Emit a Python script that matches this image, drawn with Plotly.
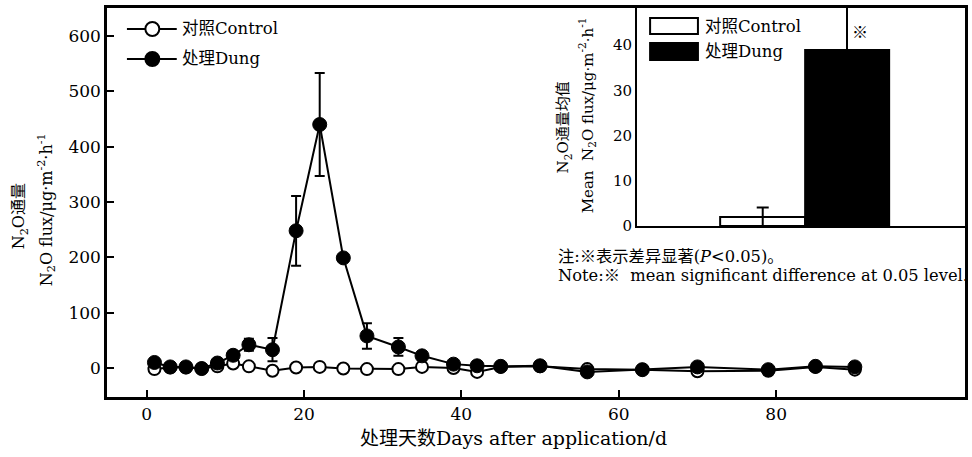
import plotly.graph_objects as go

# ---- data ----
days = [1, 3, 5, 7, 9, 11, 13, 16, 19, 22, 25, 28, 32, 35, 39, 42, 45, 50, 56, 63, 70, 79, 85, 90]
control = [-2, 1, 1, -1, 3, 8, 3, -5, 1, 2, -1, -2, -2, 2, 0, -7, 2, 3, -2, -3, -6, -5, 2, -3]
control_err = [3, 2, 2, 2, 3, 3, 3, 3, 4, 3, 3, 3, 3, 3, 3, 4, 3, 3, 4, 3, 4, 3, 3, 4]
dung = [10, 2, 2, -1, 9, 23, 42, 33, 248, 440, 199, 58, 38, 22, 7, 4, 3, 4, -7, -3, 2, -3, 3, 2]
dung_err = [4, 2, 2, 2, 3, 4, 11, 21, 63, 93, 5, 23, 16, 4, 3, 3, 2, 2, 4, 2, 2, 2, 2, 3]

mean_labels = ["对照Control", "处理Dung"]
mean_pos = [1, 2]
mean_values = [1.9, 38.9]
mean_err = [2.2, 12]

x_ticks = [0, 20, 40, 60, 80]
y_ticks = [0, 100, 200, 300, 400, 500, 600]
y2_ticks = [0, 10, 20, 30, 40]

FONT = "DejaVu Serif, Noto Sans CJK SC"

W, H = 972, 457
L, R, T, B = 107, 4, 8, 60
PW, PH = W - L - R, H - T - B


def px(x):
    return (x - L) / PW


def py(y):
    return (H - B - y) / PH


fig = go.Figure()

fig.add_trace(go.Scatter(
    x=days, y=control, mode="lines+markers", name=mean_labels[0],
    error_y=dict(type="data", array=control_err, color="black", thickness=1.5, width=4),
    line=dict(color="black", width=2),
    marker=dict(symbol="circle", size=12, color="white", line=dict(color="black", width=2)),
    showlegend=False, xaxis="x", yaxis="y"))

fig.add_trace(go.Scatter(
    x=days, y=dung, mode="lines+markers", name=mean_labels[1],
    error_y=dict(type="data", array=dung_err, color="black", thickness=2, width=5),
    line=dict(color="black", width=2),
    marker=dict(symbol="circle", size=14, color="black", line=dict(color="black", width=1)),
    showlegend=False, xaxis="x", yaxis="y"))

fig.add_trace(go.Bar(
    x=mean_pos, y=mean_values, width=1, name="mean",
    marker=dict(color=["white", "black"], line=dict(color="black", width=2)),
    error_y=dict(type="data", array=mean_err, color="black", thickness=2, width=6),
    showlegend=False, xaxis="x2", yaxis="y2"))

axis_common = dict(showline=True, linecolor="black", linewidth=2.5, showgrid=False,
                   zeroline=False, ticks="inside", ticklen=7, tickwidth=2, tickcolor="black",
                   tickfont=dict(family=FONT, size=17, color="black"))

shapes = []
annotations = []

# main legend
for i, (lab, fill) in enumerate(zip(mean_labels, ["white", "black"])):
    yy = 29 + 30 * i
    shapes.append(dict(type="line", xref="paper", yref="paper", x0=px(127), x1=px(177),
                       y0=py(yy), y1=py(yy), line=dict(color="black", width=2)))
    shapes.append(dict(type="circle", xref="paper", yref="paper", x0=px(145.5), x1=px(159.5),
                       y0=py(yy + 7), y1=py(yy - 7), fillcolor=fill,
                       line=dict(color="black", width=2)))
    annotations.append(dict(xref="paper", yref="paper", x=px(180), y=py(yy), text=lab,
                            showarrow=False, xanchor="left", yanchor="middle",
                            font=dict(family=FONT, size=16.5, color="black")))

# inset legend
for i, (lab, fill) in enumerate(zip(mean_labels, ["white", "black"])):
    y0, y1 = [(18, 34), (43, 60)][i]
    shapes.append(dict(type="rect", xref="paper", yref="paper", x0=px(652), x1=px(700),
                       y0=py(y1), y1=py(y0), fillcolor=fill, line=dict(color="black", width=2)))
    annotations.append(dict(xref="paper", yref="paper", x=px(705), y=py((y0 + y1) / 2), text=lab,
                            showarrow=False, xanchor="left", yanchor="middle",
                            font=dict(family=FONT, size=16.5, color="black")))

# axis titles and notes
annotations += [
    dict(xref="paper", yref="paper", x=px(20), y=py(216), text="N<sub>2</sub>O通量",
         textangle=-90, showarrow=False, xanchor="center", yanchor="middle",
         font=dict(family=FONT, size=16, color="black")),
    dict(xref="paper", yref="paper", x=px(46), y=py(210),
         text="N<sub>2</sub>O flux/μg·m<sup>-2</sup>·h<sup>-1</sup>",
         textangle=-90, showarrow=False, xanchor="center", yanchor="middle",
         font=dict(family=FONT, size=16, color="black")),
    dict(xref="paper", yref="paper", x=px(515), y=py(438), text="处理天数Days after application/d",
         showarrow=False, xanchor="center", yanchor="middle",
         font=dict(family=FONT, size=19, color="black")),
    dict(xref="paper", yref="paper", x=px(565), y=py(127), text="N<sub>2</sub>O通量均值",
         textangle=-90, showarrow=False, xanchor="center", yanchor="middle",
         font=dict(family=FONT, size=15, color="black")),
    dict(xref="paper", yref="paper", x=px(588), y=py(115),
         text="Mean  N<sub>2</sub>O flux/μg·m<sup>-2</sup>·h<sup>-1</sup>",
         textangle=-90, showarrow=False, xanchor="center", yanchor="middle",
         font=dict(family=FONT, size=15, color="black")),
    dict(xref="paper", yref="paper", x=px(863), y=py(33), text="※",
         showarrow=False, xanchor="center", yanchor="middle",
         font=dict(family=FONT, size=16, color="black")),
    dict(xref="paper", yref="paper", x=px(558), y=py(256), text="注:※表示差异显著(<i>P</i><0.05)。",
         showarrow=False, xanchor="left", yanchor="middle",
         font=dict(family=FONT, size=16.3, color="black")),
    dict(xref="paper", yref="paper", x=px(558), y=py(276),
         text="Note:※  mean significant difference at 0.05 level.",
         showarrow=False, xanchor="left", yanchor="middle",
         font=dict(family=FONT, size=16.3, color="black")),
]

fig.update_layout(
    width=W, height=H,
    margin=dict(l=L, r=R, t=T, b=B),
    paper_bgcolor="white", plot_bgcolor="white",
    font=dict(family=FONT, color="black"),
    xaxis=dict(domain=[0, 1], range=[-5.03, 104.0], tickvals=x_ticks, mirror=True,
               anchor="y", **axis_common),
    yaxis=dict(domain=[0, 1], range=[-52.4, 650.6], tickvals=y_ticks, mirror=True,
               anchor="x", **axis_common),
    xaxis2=dict(domain=[px(639), 1], range=[-0.49, 3.4], anchor="y2", showline=True,
                linecolor="black", linewidth=2, showgrid=False, zeroline=False,
                showticklabels=False, ticks=""),
    yaxis2=dict(domain=[py(226), 1], range=[0, 48.2], anchor="x2", tickvals=y2_ticks,
                showline=True, linecolor="black", linewidth=2, showgrid=False, zeroline=False,
                ticks="", tickfont=dict(family=FONT, size=15, color="black")),
    shapes=shapes,
    annotations=annotations,
    bargap=0,
)

fig.write_html("out.html", config={"displayModeBar": False},
               post_script="document.body.style.margin='0';")
